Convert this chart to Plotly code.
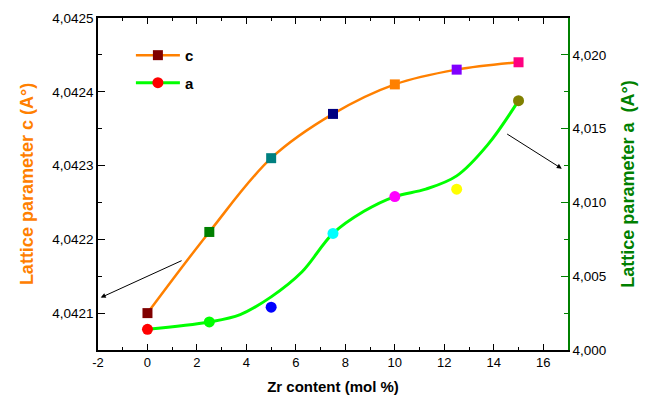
import plotly.graph_objects as go

# ---- data ----
zr_content = [0, 2.5, 5, 7.5, 10, 12.5, 15]
c_values = [4.04210, 4.04221, 4.04231, 4.04237, 4.04241, 4.04243, 4.04244]
a_values = [4.0014, 4.0019, 4.0029, 4.0079, 4.0104, 4.0109, 4.0169]

# smoothed curve drawn through the "a" data
a_curve_x = [0, 2.5, 3.75, 5, 6.25, 7.5, 8.75, 10, 11.25, 12.5, 13.75, 15]
a_curve_y = [4.0014, 4.0019, 4.0024, 4.0036, 4.0053, 4.0079, 4.0094, 4.0104,
             4.0109, 4.0118, 4.0139, 4.0169]

c_colors = ["#800000", "#008000", "#008080", "#000080", "#FF8000", "#8000FF", "#FF0080"]
a_colors = ["#FF0000", "#00FF00", "#0000FF", "#00FFFF", "#FF00FF", "#FFFF00", "#808000"]

x_ticks = [-2, 0, 2, 4, 6, 8, 10, 12, 14, 16]
x_ticktext = ["-2", "0", "2", "4", "6", "8", "10", "12", "14", "16"]
c_ticks = [4.0421, 4.0422, 4.0423, 4.0424, 4.0425]
a_ticks = [4.000, 4.005, 4.010, 4.015, 4.020]

FONT = "Liberation Sans, Arial, sans-serif"

fig = go.Figure()

# c series: spline line + coloured squares
fig.add_trace(go.Scatter(
    x=zr_content, y=c_values, mode="lines+markers", name="c",
    line=dict(color="#FF8000", width=2.5, shape="spline"),
    marker=dict(symbol="square", size=10, color=c_colors),
    legendgroup="c", yaxis="y",
))

# a series: smooth curve
fig.add_trace(go.Scatter(
    x=a_curve_x, y=a_curve_y, mode="lines", showlegend=False,
    line=dict(color="#00FF00", width=3, shape="spline"),
    yaxis="y2", hoverinfo="skip",
))
# a series: coloured circles
fig.add_trace(go.Scatter(
    x=zr_content, y=a_values, mode="markers", showlegend=False,
    marker=dict(symbol="circle", size=11, color=a_colors),
    yaxis="y2",
))
# legend entry for a
fig.add_trace(go.Scatter(
    x=[None], y=[None], mode="lines+markers", name="a",
    line=dict(color="#00FF00", width=3),
    marker=dict(symbol="circle", size=11, color=a_colors[0]),
    legendgroup="a", yaxis="y2",
))

fig.update_layout(
    width=641, height=395,
    margin=dict(l=89.5, r=81.3, t=9.5, b=53),
    paper_bgcolor="white", plot_bgcolor="white",
    separators=", ",
    font=dict(family=FONT, size=13, color="black"),
    showlegend=True,
    legend=dict(
        x=0.07, y=0.937, xanchor="left", yanchor="top",
        bgcolor="rgba(0,0,0,0)", borderwidth=0,
        font=dict(family=FONT, size=15, color="black", weight="bold"),
        tracegroupgap=5, traceorder="grouped", itemwidth=44,
    ),
    xaxis=dict(
        range=[-2, 17], tickvals=x_ticks, ticktext=x_ticktext,
        ticks="inside", ticklen=6, tickwidth=1, tickcolor="black",
        minor=dict(dtick=1, ticks="inside", ticklen=3, tickcolor="black"),
        showline=True, linecolor="black", linewidth=1.5, mirror="ticks",
        showgrid=False, zeroline=False, automargin=False,
        tickfont=dict(size=13),
        title=dict(text="Zr content (mol %)",
                   font=dict(size=15, weight="bold", color="black"), standoff=12),
    ),
    yaxis=dict(
        range=[4.04205, 4.0425], tickvals=c_ticks, tickformat=".4f",
        ticks="inside", ticklen=7, tickwidth=1, tickcolor="black",
        minor=dict(dtick=0.00005, tick0=4.0421, ticks="inside", ticklen=4, tickcolor="black"),
        showline=True, linecolor="black", linewidth=1.5,
        showgrid=False, zeroline=False, automargin=False,
        tickfont=dict(size=13.5),
        title=dict(text="Lattice parameter c (A°)",
                   font=dict(size=18, weight="bold", color="#FF8000"), standoff=14),
    ),
    yaxis2=dict(
        range=[4.000, 4.0225], tickvals=a_ticks, tickformat=".3f",
        overlaying="y", side="right",
        ticks="inside", ticklen=7, tickwidth=1, tickcolor="#008000",
        minor=dict(dtick=0.0025, tick0=4.0, ticks="inside", ticklen=4, tickcolor="#008000"),
        showline=True, linecolor="#008000", linewidth=1.5,
        showgrid=False, zeroline=False, automargin=False,
        tickfont=dict(size=13.5, color="black"),
        title=dict(text="Lattice parameter a  (A°)",
                   font=dict(size=18, weight="bold", color="#008000"), standoff=16),
    ),
    annotations=[
        dict(x=-1.89, y=4.042121, ax=1.44, ay=4.042172,
             xref="x", yref="y", axref="x", ayref="y",
             showarrow=True, arrowhead=2, arrowsize=1, arrowwidth=1,
             arrowcolor="black", text=""),
        dict(x=16.75, y=4.01229, ax=14.48, ay=4.0147,
             xref="x", yref="y2", axref="x", ayref="y2",
             showarrow=True, arrowhead=2, arrowsize=1, arrowwidth=1,
             arrowcolor="black", text=""),
    ],
)

fig.write_html("out.html")
